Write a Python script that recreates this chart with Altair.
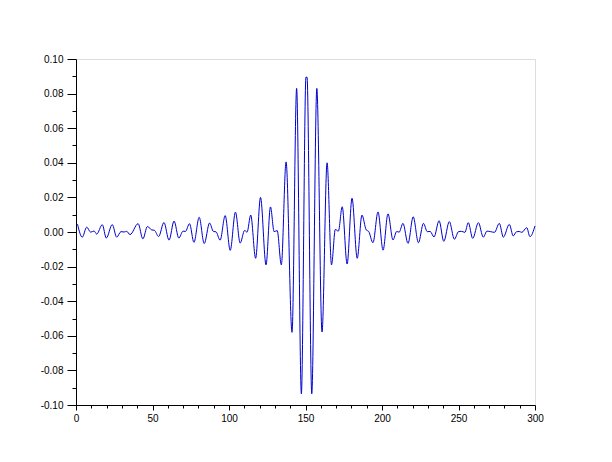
import altair as alt
import pandas as pd

# sample positions (x) and signal values (y) at turning points
xs = [1, 4.1, 7, 9.6, 11.8, 13.5, 17.2, 19.8, 23.7, 26.6, 29.4, 31.5, 33.1, 35.3,
      40.6, 43.7, 46.7, 49.5, 51.2, 54, 57.5, 60.8, 64.1, 67.2, 70, 71.5, 74.2,
      77.1, 80.5, 83.8, 87.3, 89.8, 91.5, 94.2, 97.5, 100.8, 104.2, 107.3, 110.2,
      111.8, 114.2, 117.4, 120.6, 124.2, 127.1, 129.5, 131.5, 134.2, 137.3, 141.2,
      144.2, 147.3, 150.3, 151.0, 154.1, 157.4, 160.8, 164.1, 167.0, 169.5, 171.5,
      174.0, 177.2, 180.4, 183.8, 186.9, 189.7, 191.3, 194.1, 197.4, 200.7, 203.9,
      207.2, 209.6, 211.2, 213.7, 217.0, 220.4, 223.8, 227.1, 229.6, 231.5, 234.0,
      237.3, 240.4, 244.0, 247.3, 250.0, 251.8, 254.2, 256.4, 259.3, 263.0, 266.2,
      268.6, 271.0, 273.5, 276.7, 279.3, 283.2, 285.8, 287.8, 289.6, 291.4, 294.6,
      296.7, 300.0]
ys = [0.0045, -0.003, 0.0028, -0.0001, 0.0006, -0.0012, 0.0042, -0.0035, 0.0043,
      -0.003, 0.0002, 0.0, 0.0004, -0.0015, 0.0048, -0.004, 0.0032, 0.0012, 0.0010,
      -0.0026, 0.0055, -0.0047, 0.0063, -0.0035, 0.0005, 0.0003, 0.0048, -0.006,
      0.0085, -0.0067, 0.0052, 0.0003, 0.0001, -0.0047, 0.0095, -0.0106, 0.0115,
      -0.0064, 0.0009, -0.0001, 0.0098, -0.0152, 0.0200, -0.0190, 0.0145, 0.0002,
      0.0008, -0.0190, 0.0405, -0.0580, 0.0830, -0.0935, 0.0895, 0.0895, -0.0935,
      0.0830, -0.0578, 0.0400, -0.0190, 0.0015, 0.0005, 0.0146, -0.0185, 0.0195,
      -0.0152, 0.0098, 0.0012, 0.0003, -0.0062, 0.0116, -0.0105, 0.0105, -0.0046,
      0.0003, -0.0001, 0.0050, -0.0066, 0.0088, -0.0062, 0.0050, 0.0002, 0.0003,
      -0.0029, 0.0065, -0.0054, 0.0060, -0.0042, 0.0002, 0.0004, -0.0002, 0.0054,
      -0.0037, 0.0054, -0.0030, 0.0005, 0.0002, -0.0002, 0.0050, -0.0030, 0.0044,
      -0.0023, 0.0001, 0.0003, -0.0002, 0.0025, -0.0027, 0.0035]

x_ticks = list(range(0, 301, 10))
y_ticks = [round(-0.10 + 0.01 * i, 2) for i in range(21)]

df = pd.DataFrame({"x": xs, "y": ys})

FONT = "Liberation Sans"

x_axis = alt.Axis(
    values=x_ticks,
    labelExpr="datum.value % 50 === 0 ? format(datum.value, 'd') : ''",
    tickSize={"condition": {"test": "datum.value % 50 === 0", "value": 5}, "value": 3},
    grid=False, domainColor="black", tickColor="black", labelColor="black",
    labelFont=FONT, labelFontSize=10, labelPadding=3, title=None,
    labelFlush=False, labelOverlap=False,
)
y_axis = alt.Axis(
    values=y_ticks,
    labelExpr="round(datum.value*100) % 2 === 0 ? ((datum.value < -0.0001 ? '-' : '') + format(abs(datum.value), '.2f')) : ''",
    tickSize={"condition": {"test": "round(datum.value*100) % 2 === 0", "value": 9}, "value": 4},
    grid=False, domainColor="black", tickColor="black", labelColor="black",
    labelFont=FONT, labelFontSize=10, labelPadding=4, title=None,
    labelFlush=False, labelOverlap=False,
)

line = alt.Chart(df).mark_line(color="#0000d0", strokeWidth=1, interpolate="monotone").encode(
    x=alt.X("x:Q", scale=alt.Scale(domain=[0, 300], nice=False, zero=False), axis=x_axis),
    y=alt.Y("y:Q", scale=alt.Scale(domain=[-0.1, 0.1], nice=False, zero=False), axis=y_axis),
)

chart = line.properties(
    width=459, height=346,
    autosize="none",
    padding={"left": 68, "top": 51, "right": 20, "bottom": 40},
).configure_view(stroke="black", strokeWidth=1).configure(background="white")

chart.save("out.html", embed_options={"renderer": "svg", "actions": False})
